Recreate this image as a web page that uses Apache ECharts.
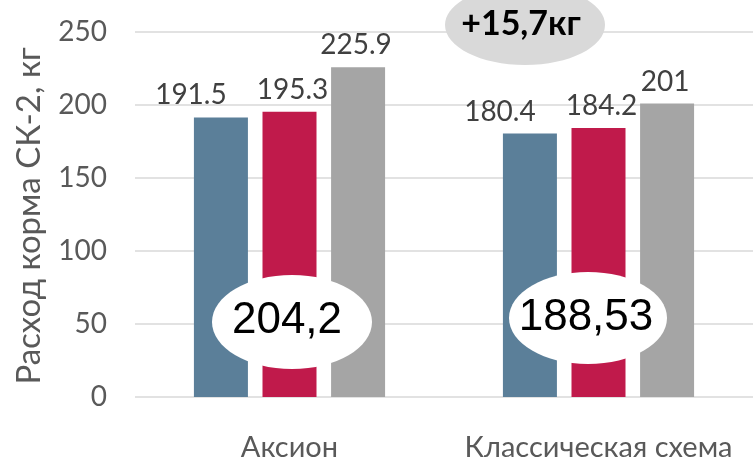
<!DOCTYPE html>
<html><head><meta charset="utf-8">
<script src="https://cdn.jsdelivr.net/npm/echarts@6/dist/echarts.min.js"></script>
<style>html,body{margin:0;padding:0;background:#fff}#c{width:753px;height:462px}</style>
</head><body><div id="c"></div>
<script>
const categories = ['Аксион', 'Классическая схема'];
const series1 = [191.5, 180.4];
const series2 = [195.3, 184.2];
const series3 = [225.9, 201];
const yTicks = { min: 0, max: 250, interval: 50 };
const yTitle = 'Расход корма СК-2, кг';
const colors = ['#5b7f99', '#c01a4b', '#a5a5a5'];

const chart = echarts.init(document.getElementById('c'), null, { renderer: 'canvas' });
function mk(data, color, offset) {
  return {
    type: 'bar', data: data, itemStyle: { color: color },
    label: { show: true, position: 'top', distance: 8, offset: offset, color: '#404040', fontFamily: 'Lato', fontSize: 28 },
    barWidth: 54, barGap: '27%', z: 2
  };
}
chart.setOption({
  animation: false,
  grid: { left: 135, right: 0, top: 32, bottom: 65 },
  xAxis: {
    type: 'category', data: categories,
    axisLine: { show: false }, axisTick: { show: false },
    axisLabel: { interval: 0, hideOverlap: false, color: '#595959', fontFamily: 'Lato', fontSize: 29, margin: 36 }
  },
  yAxis: {
    type: 'value', min: yTicks.min, max: yTicks.max, interval: yTicks.interval,
    axisLabel: { color: '#595959', fontFamily: 'Lato', fontSize: 28, margin: 28 },
    splitLine: { lineStyle: { color: '#d9d9d9', width: 1.5 } }
  },
  series: [mk(series1, colors[0], [-30, 0]), mk(series2, colors[1], [3, 0]), mk(series3, colors[2], [-2, 0])],
  graphic: [
    { type: 'text', x: 29, y: 216, rotation: Math.PI / 2, style: { text: yTitle, fill: '#595959', font: '33px Lato', align: 'center', verticalAlign: 'middle' }, z: 5 },
    { type: 'ellipse', shape: { cx: 525, cy: 25, rx: 80, ry: 40 }, style: { fill: '#d9d9d9' }, z: 10 },
    { type: 'text', x: 521, y: 24, style: { text: '+15,7кг', fill: '#000', font: 'bold 34px Lato', align: 'center', verticalAlign: 'middle' }, z: 11 },
    { type: 'ellipse', shape: { cx: 292, cy: 322, rx: 80, ry: 47 }, style: { fill: '#fff' }, z: 10 },
    { type: 'text', x: 287, y: 321, style: { text: '204,2', fill: '#000', font: '44px "Liberation Sans"', align: 'center', verticalAlign: 'middle' }, z: 11 },
    { type: 'ellipse', shape: { cx: 588, cy: 318, rx: 79, ry: 46 }, style: { fill: '#fff' }, z: 10 },
    { type: 'text', x: 586, y: 318, style: { text: '188,53', fill: '#000', font: '44px "Liberation Sans"', align: 'center', verticalAlign: 'middle' }, z: 11 }
  ]
});
</script></body></html>
